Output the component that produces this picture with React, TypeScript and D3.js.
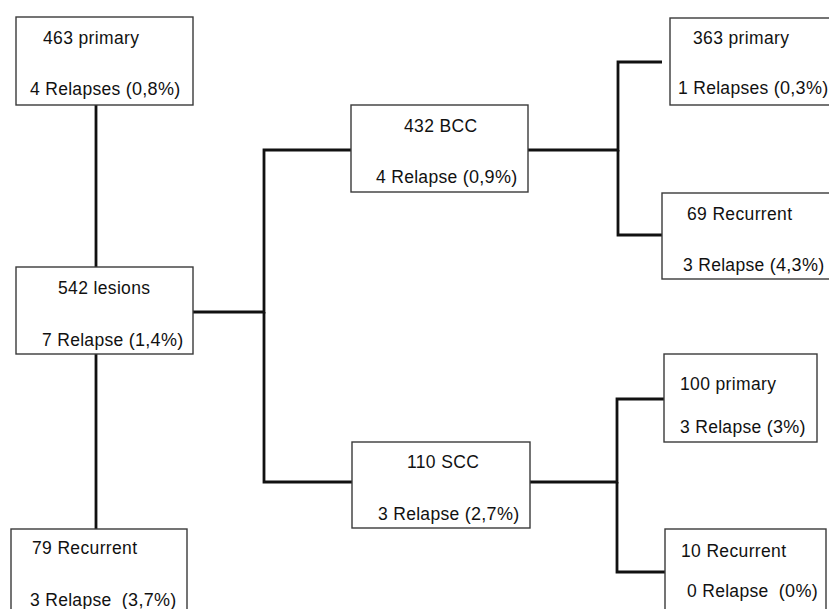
import React, { useEffect, useRef } from "react";
import * as d3 from "d3";

// ---- data ----
const nodeIds = ["p463", "l542", "r79", "bcc", "scc", "bp363", "br69", "sp100", "sr10"];
const counts = [463, 542, 79, 432, 110, 363, 69, 100, 10];
const groupNames = ["primary", "lesions", "Recurrent", "BCC", "SCC", "primary", "Recurrent", "primary", "Recurrent"];
const relapses = [4, 7, 3, 4, 3, 1, 3, 3, 0];
const relapseWords = ["Relapses", "Relapse", "Relapse ", "Relapse", "Relapse", "Relapses", "Relapse", "Relapse", "Relapse "];
const percents = ["(0,8%)", "(1,4%)", "(3,7%)", "(0,9%)", "(2,7%)", "(0,3%)", "(4,3%)", "(3%)", "(0%)"];
const links: [string, string][] = [
  ["p463", "l542"], ["l542", "r79"], ["l542", "bcc"], ["l542", "scc"],
  ["bcc", "bp363"], ["bcc", "br69"], ["scc", "sp100"], ["scc", "sr10"],
];

// ---- layout (positions in px, not data) ----
const layout: Record<string, { x: number; y: number; w: number; h: number; t1: [number, number]; t2: [number, number] }> = {
  p463: { x: 16, y: 17, w: 177, h: 88, t1: [43, 44], t2: [30, 95] },
  l542: { x: 16, y: 267, w: 177, h: 87, t1: [58, 294], t2: [42, 346] },
  r79: { x: 11, y: 529, w: 176, h: 95, t1: [32, 554], t2: [30, 606] },
  bcc: { x: 351, y: 105, w: 177, h: 87, t1: [404, 132], t2: [376, 183] },
  scc: { x: 352, y: 442, w: 178, h: 86, t1: [407, 468], t2: [378, 520] },
  bp363: { x: 670, y: 18, w: 170, h: 87, t1: [693, 44], t2: [678, 94] },
  br69: { x: 662, y: 193, w: 175, h: 86, t1: [687, 220], t2: [683, 271] },
  sp100: { x: 664, y: 354, w: 153, h: 88, t1: [680, 390], t2: [680, 433] },
  sr10: { x: 665, y: 529, w: 161, h: 95, t1: [681, 557], t2: [687, 597] },
};

// connector paths by link (elbows)
const connectorPaths: Record<string, [number, number][]> = {
  "p463-l542": [[96, 105], [96, 267]],
  "l542-r79": [[96, 354], [96, 529]],
  "l542-bcc": [[193, 312], [264, 312], [264, 150], [351, 150]],
  "l542-scc": [[264, 312], [264, 482], [352, 482]],
  "bcc-bp363": [[528, 150], [618, 150], [618, 62], [662, 62]],
  "bcc-br69": [[618, 150], [618, 235], [662, 235]],
  "scc-sp100": [[530, 482], [617, 482], [617, 399], [664, 399]],
  "scc-sr10": [[617, 482], [617, 572], [665, 572]],
};

const FONT = "'Liberation Sans', Arial, Helvetica, sans-serif";

export default function App() {
  const ref = useRef<SVGSVGElement>(null);

  useEffect(() => {
    const svg = d3.select(ref.current);
    svg.selectAll("*").remove();

    const line = d3.line<[number, number]>().x((d) => d[0]).y((d) => d[1]).curve(d3.curveLinear);

    const nodes = nodeIds.map((id, i) => ({
      id,
      line1: `${counts[i]} ${groupNames[i]}`,
      word: `${relapses[i]} ${relapseWords[i]}`,
      pct: percents[i],
    }));

    // connectors
    svg
      .append("g")
      .selectAll("path")
      .data(links)
      .join("path")
      .attr("d", ([a, b]) => line(connectorPaths[`${a}-${b}`]) as string)
      .attr("fill", "none")
      .attr("stroke", "#111")
      .attr("stroke-width", 2.8)
      .attr("stroke-linejoin", "miter");

    const g = svg
      .append("g")
      .selectAll("g")
      .data(nodes)
      .join("g");

    g.append("rect")
      .attr("x", (d) => layout[d.id].x)
      .attr("y", (d) => layout[d.id].y)
      .attr("width", (d) => layout[d.id].w)
      .attr("height", (d) => layout[d.id].h)
      .attr("fill", "#fff")
      .attr("stroke", "#3a3a3a")
      .attr("stroke-width", 1.4);

    g.append("text")
      .attr("x", (d) => layout[d.id].t1[0])
      .attr("y", (d) => layout[d.id].t1[1])
      .attr("font-family", FONT)
      .attr("font-size", 17.5)
      .attr("letter-spacing", 0.35)
      .attr("fill", "#111")
      .text((d) => d.line1);

    const t2 = g
      .append("text")
      .attr("x", (d) => layout[d.id].t2[0])
      .attr("y", (d) => layout[d.id].t2[1])
      .attr("font-family", FONT)
      .attr("font-size", 17.5)
      .attr("letter-spacing", 0.3)
      .attr("fill", "#111")
      .attr("xml:space", "preserve")
      .style("white-space", "pre");
    t2.append("tspan").text((d) => d.word + " ");
    t2.append("tspan").attr("font-size", 18).text((d) => d.pct);
  }, []);

  return (
    <svg
      ref={ref}
      width={829}
      height={609}
      style={{ position: "fixed", left: 0, top: 0, background: "#fff", display: "block" }}
    />
  );
}
